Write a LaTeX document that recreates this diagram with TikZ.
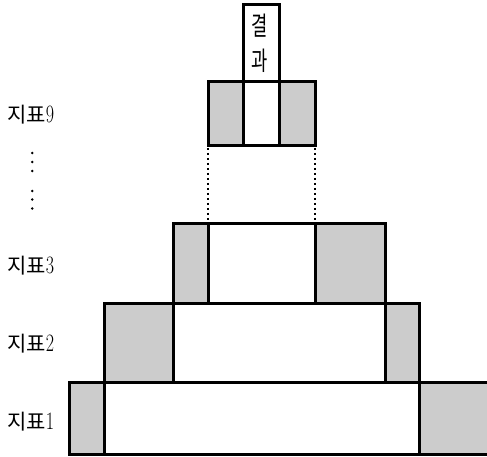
\documentclass[tikz,border=0pt]{standalone}
\usepackage{fontspec}
\newfontfamily\kr{Noto Sans CJK KR}
\newfontfamily\krn[FakeStretch=0.68]{Noto Sans CJK KR}
\definecolor{boxgray}{RGB}{204,204,204}
\newcommand{\dig}[1]{\scalebox{0.72}[1]{\rmfamily\fontsize{25}{25}\selectfont #1}}
\tikzset{
  graybox/.style={fill=boxgray, draw=black, line width=3pt},
  whitebox/.style={fill=white, draw=black, line width=3pt},
  lab/.style={anchor=west, inner sep=0pt, font=\kr\fontsize{21}{21}\selectfont},
  chr/.style={inner sep=0pt, font=\krn\fontsize{26}{26}\selectfont},
  dot/.style={fill=black, draw=none},
  guide/.style={line width=2pt, dash pattern=on 2.4pt off 2.6pt}
}
\begin{document}
\begin{tikzpicture}[x=1pt,y=-1pt]
\useasboundingbox (0,0) rectangle (487,457);
\clip (0,0) rectangle (487,457);
% row 1
\draw[graybox] (69,382) rectangle (104,454);
\draw[whitebox] (104,382) rectangle (419,454);
\draw[graybox] (419,382) rectangle (495,454);
% row 2
\draw[graybox] (104,303) rectangle (173,382);
\draw[whitebox] (173,303) rectangle (385,382);
\draw[graybox] (385,303) rectangle (419,382);
% row 3
\draw[graybox] (173,223) rectangle (208,303);
\draw[whitebox] (208,223) rectangle (315,303);
\draw[graybox] (315,223) rectangle (385,303);
% top row
\draw[graybox] (208,82) rectangle (243,146);
\draw[whitebox] (243,82) rectangle (279,146);
\draw[graybox] (279,82) rectangle (315,146);
% result box
\draw[whitebox] (243,5) rectangle (279,82);
\node[chr] (r1) at (260,26) {결};
\node[chr] (r2) at (260,61) {과};
% dotted guides
\coordinate (g1a) at (208,148);
\coordinate (g1b) at (208,221.5);
\coordinate (g2a) at (315,148);
\coordinate (g2b) at (315,221.5);
\draw[guide] (g1a) -- (g1b);
\draw[guide] (g2a) -- (g2b);
% labels
\node[lab] (l9) at (7,115) {지표\dig{9}};
\node[lab] (l3) at (7,266) {지표\dig{3}};
\node[lab] (l2) at (7,344) {지표\dig{2}};
\node[lab] (l1) at (7,422) {지표\dig{1}};
% vertical dots
\foreach \yy in {153,162,171,191,199.5,208.5}
  \fill[dot] (32.3,\yy) circle (1.4);
\end{tikzpicture}
\end{document}
